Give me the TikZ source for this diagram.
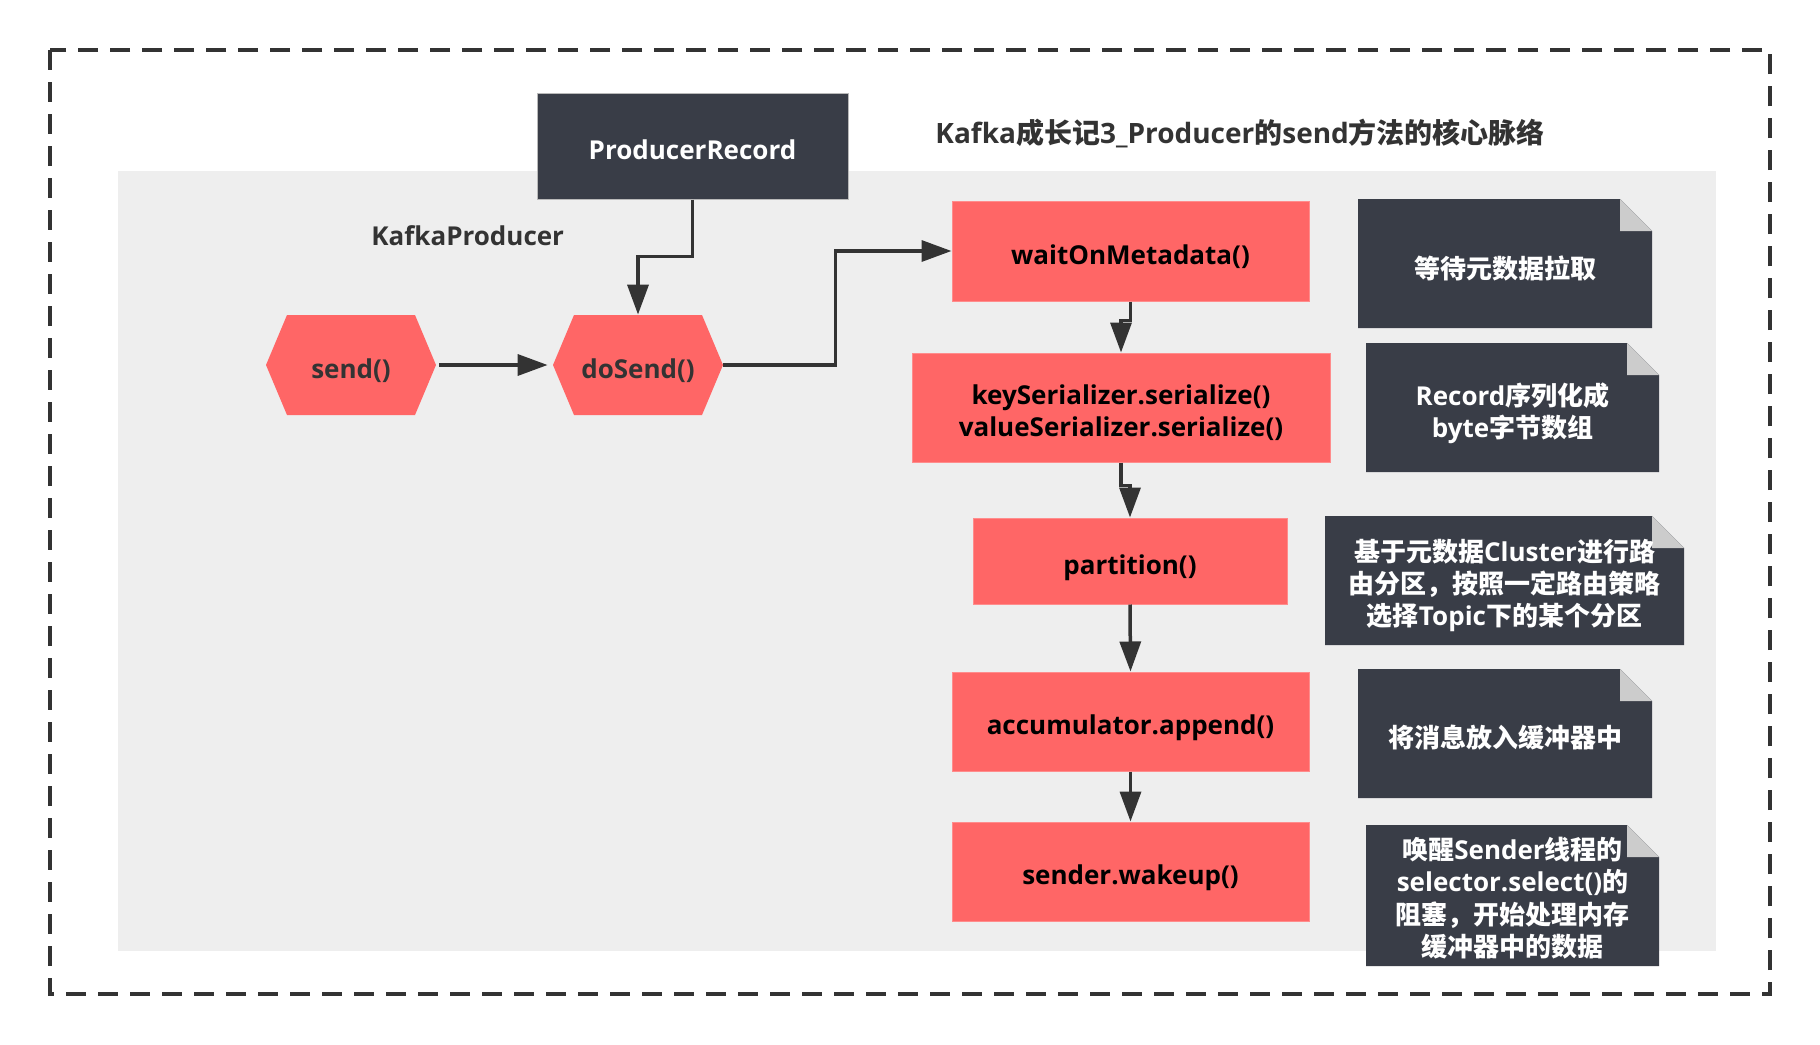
\documentclass[tikz,border=0pt]{standalone}
\usepackage{fontspec}
\setmainfont{Open Sans}
\newfontfamily\cjk{Noto Sans CJK SC}
\usetikzlibrary{arrows.meta}
\definecolor{darkbox}{HTML}{393D47}
\definecolor{redbox}{HTML}{FF6666}
\definecolor{bggray}{HTML}{EEEEEE}
\definecolor{foldgray}{HTML}{CCCCCC}
\definecolor{linec}{HTML}{333333}
\definecolor{txt}{HTML}{333333}
\newcommand\tx[2][-3.5pt]{\raisebox{#1}[\height][\depth]{\begin{tabular}{@{}c@{}}#2\end{tabular}}}
\begin{document}
\begin{tikzpicture}[x=0.5pt,y=-0.5pt,
  every node/.style={font=\bfseries\fontsize{13pt}{16pt}\selectfont, inner sep=0pt},
  redstep/.style={fill=redbox, draw=redbox!75!white, line width=0.5pt, text=black},
  darkrec/.style={fill=darkbox, draw=gray!55, line width=0.5pt, text=white},
  hexbox/.style={minimum width=85pt, minimum height=50pt, fill=bggray, text=txt,
    path picture={\fill[redbox] ([xshift=10.5pt]path picture bounding box.north west) -- ([xshift=-10.5pt]path picture bounding box.north east) -- (path picture bounding box.east) -- ([xshift=-10.5pt]path picture bounding box.south east) -- ([xshift=10.5pt]path picture bounding box.south west) -- (path picture bounding box.west) -- cycle;}},
  notebox/.style={fill=bggray, text=white,
    path picture={\fill[darkbox] (path picture bounding box.north west) -- ([xshift=-16pt]path picture bounding box.north east) -- ([yshift=-16pt]path picture bounding box.north east) -- (path picture bounding box.south east) -- (path picture bounding box.south west) -- cycle;
      \fill[foldgray] ([xshift=-16pt]path picture bounding box.north east) -- ([xshift=-16pt,yshift=-16pt]path picture bounding box.north east) -- ([yshift=-16pt]path picture bounding box.north east) -- cycle;}},
  arr/.style={draw=linec, line width=1.75pt, -{Triangle[length=15pt,width=10.5pt]}}
]
\useasboundingbox (0,0) rectangle (1820,1044);
\fill[white] (0,0) rectangle (1820,1044);
\fill[bggray] (118,171) rectangle (1716,951);
\draw[linec, line width=2pt, dash pattern=on 10pt off 6pt] (50,50) rectangle (1770,994);

\node[text=txt, anchor=west, font=\bfseries\fontsize{14pt}{17pt}\selectfont] (title) at (935,134) {Kafka{\cjk 成长记}3\_Producer{\cjk 的}send{\cjk 方法的核心脉络}};
\node[text=txt, anchor=west] (kp) at (371,236) {KafkaProducer};

\node[darkrec, minimum width=155.5pt, minimum height=53pt] (pr) at (692.5,146) {\tx{ProducerRecord}};
\node[hexbox] (send) at (351,365) {\tx{send()}};
\node[hexbox] (dosend) at (638,365) {\tx{doSend()}};

\node[redstep, minimum width=178.5pt, minimum height=50pt] (wait) at (1130.5,251) {\tx{waitOnMetadata()}};
\node[redstep, minimum width=209pt, minimum height=54.5pt] (ser) at (1121,407.5) {\tx{keySerializer.serialize()\\valueSerializer.serialize()}};
\node[redstep, minimum width=157pt, minimum height=43pt] (part) at (1130,561) {\tx{partition()}};
\node[redstep, minimum width=178.5pt, minimum height=49.5pt] (acc) at (1130.5,721.5) {\tx{accumulator.append()}};
\node[redstep, minimum width=178.5pt, minimum height=49.5pt] (wake) at (1130.5,871.5) {\tx{sender.wakeup()}};

\node[notebox, minimum width=147pt, minimum height=64.5pt] (n1) at (1505,263.5) {\tx[-4pt]{\cjk 等待元数据拉取}};
\node[notebox, minimum width=146.5pt, minimum height=64.5pt] (n2) at (1512.5,407.5) {\tx{Record{\cjk 序列化成}\\byte{\cjk 字节数组}}};
\node[notebox, minimum width=179.5pt, minimum height=64.5pt] (n3) at (1504.5,580.5) {\tx{{\cjk 基于元数据}Cluster{\cjk 进行路}\\{\cjk 由分区，按照一定路由策略}\\{\cjk 选择}Topic{\cjk 下的某个分区}}};
\node[notebox, minimum width=147pt, minimum height=64.5pt] (n4) at (1505,733.5) {\tx[-4pt]{\cjk 将消息放入缓冲器中}};
\node[notebox, minimum width=146.5pt, minimum height=70.5pt] (n5) at (1512.5,895.5) {\tx[-3pt]{{\cjk 唤醒}Sender{\cjk 线程的}\\selector.select(){\cjk 的}\\{\cjk 阻塞，开始处理内存}\\{\cjk 缓冲器中的数据}}};

\draw[arr, shorten <=1.5pt, shorten >=2.5pt] (send.east) -- (dosend.west);
\draw[arr] (pr.south) -- ++(0,57) -| (dosend.north);
\draw[arr] (dosend.east) -- ++(112,0) |- (wait.west);
\draw[arr] (wait.south) -- ++(0,19) -| (ser.north);
\draw[arr] (ser.south) -- ++(0,23) -| (part.north);
\draw[arr] (part.south) -- (acc.north);
\draw[arr] (acc.south) -- (wake.north);
\end{tikzpicture}
\end{document}
